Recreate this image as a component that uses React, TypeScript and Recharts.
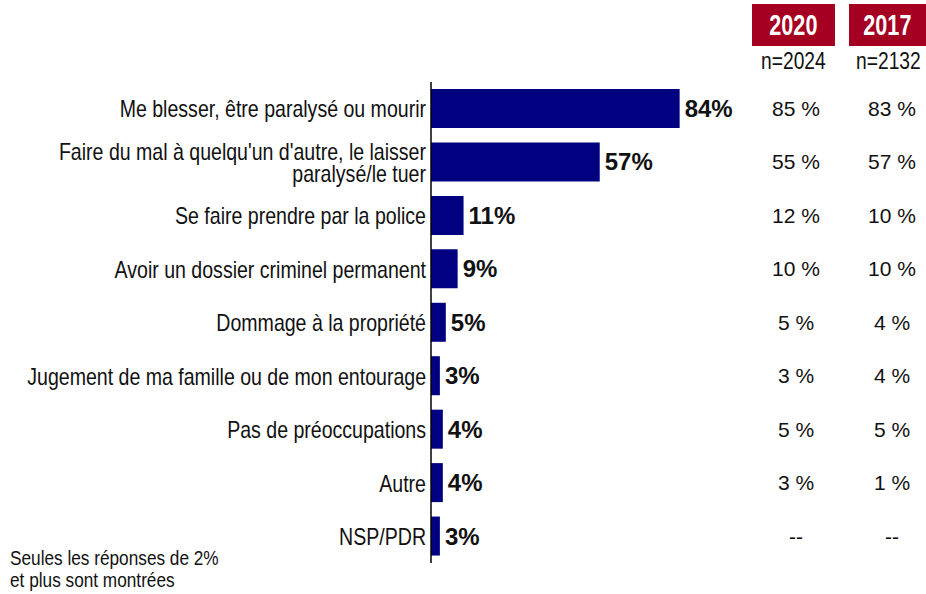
import { BarChart, Bar, XAxis, YAxis, LabelList } from "recharts";

const categories = [
  "Me blesser, être paralysé ou mourir",
  "Faire du mal à quelqu'un d'autre, le laisser\nparalysé/le tuer",
  "Se faire prendre par la police",
  "Avoir un dossier criminel permanent",
  "Dommage à la propriété",
  "Jugement de ma famille ou de mon entourage",
  "Pas de préoccupations",
  "Autre",
  "NSP/PDR",
];
const currentValues = [84, 57, 11, 9, 5, 3, 4, 4, 3];
const values2020 = ["85 %", "55 %", "12 %", "10 %", "5 %", "3 %", "5 %", "3 %", "--"];
const values2017 = ["83 %", "57 %", "10 %", "10 %", "4 %", "4 %", "5 %", "1 %", "--"];
const years = ["2020", "2017"];
const sampleSizes = ["n=2024", "n=2132"];

// no narrow font installed, so condensed text is squeezed with scaleX
const SANS = '"Liberation Sans", Arial, sans-serif';
const NAVY = "#000080";
const RED = "#A50021";

const data = categories.map((name, i) => ({
  name,
  value: currentValues[i],
  v2020: values2020[i],
  v2017: values2017[i],
}));

function CategoryTick({ x, y, payload }: any) {
  const lines = String(payload.value).split("\n");
  const lh = 22;
  const top = -((lines.length - 1) * lh) / 2;
  return (
    <g transform={`translate(${x + 3},${y}) scale(0.815,1)`}>
      <text
        x={0}
        y={top}
        textAnchor="end"
        dominantBaseline="central"
        fontFamily={SANS}
        fontSize={24}
        fill="#111"
      >
        {lines.map((l, i) => (
          <tspan key={i} x={0} dy={i === 0 ? 0 : lh}>
            {l}
          </tspan>
        ))}
      </text>
    </g>
  );
}

const valueLabel = (props: any) => {
  const { x, y, width, height, value } = props;
  return (
    <text
      x={x + width + 5}
      y={y + height / 2}
      dominantBaseline="central"
      fontFamily={SANS}
      fontWeight="bold"
      fontSize={24}
      fill="#111"
    >
      {`${value}%`}
    </text>
  );
};

const columnLabel = (cx: number) => (props: any) => {
  const { y, height, value } = props;
  return (
    <text
      x={cx}
      y={y + height / 2}
      textAnchor="middle"
      dominantBaseline="central"
      fontFamily={SANS}
      fontSize={21}
      fill="#111"
    >
      {value}
    </text>
  );
};

const headerBoxes = [
  { left: 752, width: 83, center: 793 },
  { left: 849, width: 77, center: 888 },
];

export default function App() {
  return (
    <div
      style={{
        position: "absolute",
        left: 0,
        top: 0,
        width: 926,
        height: 594,
        background: "#fff",
        overflow: "hidden",
      }}
    >
      <BarChart
        width={926}
        height={594}
        data={data}
        layout="vertical"
        margin={{ top: 82, right: 199, bottom: 31, left: 0 }}
        barSize={39}
      >
        <XAxis type="number" domain={[0, 100]} hide />
        <YAxis
          type="category"
          dataKey="name"
          width={431}
          tickLine={false}
          axisLine={{ stroke: "#000", strokeWidth: 1.5 }}
          tick={<CategoryTick />}
          interval={0}
        />
        <Bar dataKey="value" fill={NAVY} isAnimationActive={false}>
          <LabelList dataKey="value" content={valueLabel} />
          <LabelList dataKey="v2020" content={columnLabel(796)} />
          <LabelList dataKey="v2017" content={columnLabel(892)} />
        </Bar>
      </BarChart>

      {years.map((yr, i) => (
        <div
          key={yr}
          style={{
            position: "absolute",
            left: headerBoxes[i].left,
            top: 4,
            width: headerBoxes[i].width,
            height: 42,
            background: RED,
            color: "#fff",
            fontFamily: SANS,
            fontWeight: "bold",
            fontSize: 30,
            lineHeight: "42px",
            textAlign: "center",
          }}
        >
          <span style={{ display: "inline-block", transform: "scaleX(0.72)" }}>{yr}</span>
        </div>
      ))}
      {sampleSizes.map((n, i) => (
        <div
          key={n}
          style={{
            position: "absolute",
            left: headerBoxes[i].center - 60,
            top: 49,
            width: 120,
            height: 24,
            color: "#111",
            fontFamily: SANS,
            fontSize: 24,
            lineHeight: "24px",
            textAlign: "center",
          }}
        >
          <span style={{ display: "inline-block", transform: "scaleX(0.8)" }}>{n}</span>
        </div>
      ))}
      <div
        style={{
          position: "absolute",
          left: 10,
          top: 547,
          color: "#111",
          fontFamily: SANS,
          fontSize: 21,
          lineHeight: "22px",
          whiteSpace: "nowrap",
          transform: "scaleX(0.82)",
          transformOrigin: "left top",
        }}
      >
        Seules les réponses de 2%
        <br />
        et plus sont montrées
      </div>
    </div>
  );
}
